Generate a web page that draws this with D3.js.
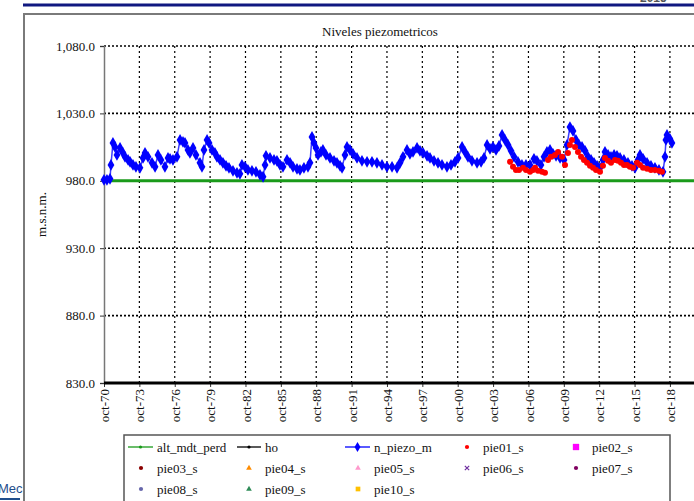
<!DOCTYPE html>
<html>
<head>
<meta charset="utf-8">
<script src="https://cdn.jsdelivr.net/npm/d3@7"></script>
<style>
  html, body { margin: 0; padding: 0; background: #fff; overflow: hidden; }
  svg { display: block; }
  svg text { font-family: "Liberation Serif", "DejaVu Serif", serif; }
</style>
</head>
<body>
<svg id="chart" width="694" height="501"></svg>
<script>
// ── data (decimal year, m.s.n.m.)
const nPiezo = [
  [1970.75, 980.7], [1971.00, 980.7], [1971.26, 981.5], [1971.34, 991.8], [1971.51, 1008.1],
  [1971.68, 1005.1], [1971.85, 999.2], [1972.11, 1004.4], [1972.36, 1000.7], [1972.53, 997.8],
  [1972.79, 995.5], [1972.96, 994.1], [1973.21, 991.8], [1973.46, 990.4], [1973.80, 989.6],
  [1974.06, 997.0], [1974.23, 1000.7], [1974.48, 997.8], [1974.82, 993.3], [1975.08, 990.4],
  [1975.33, 999.2], [1975.58, 995.5], [1975.92, 990.4], [1976.18, 997.0], [1976.35, 996.3],
  [1976.60, 995.5], [1976.94, 997.8], [1977.20, 1010.3], [1977.45, 1008.8], [1977.62, 1008.1],
  [1977.87, 1002.9], [1978.04, 1000.7], [1978.30, 1004.4], [1978.55, 999.2], [1978.89, 993.3],
  [1979.06, 990.4], [1979.23, 1002.9], [1979.49, 1010.3], [1979.66, 1008.1], [1979.91, 1002.9],
  [1980.16, 1000.7], [1980.33, 997.8], [1980.59, 995.5], [1980.84, 993.3], [1981.10, 991.1],
  [1981.35, 989.6], [1981.69, 987.4], [1982.03, 985.9], [1982.28, 985.2], [1982.45, 991.8],
  [1982.71, 990.4], [1982.96, 988.1], [1983.30, 987.4], [1983.64, 986.7], [1983.98, 984.4],
  [1984.24, 983.0], [1984.41, 991.8], [1984.49, 998.5], [1984.83, 997.0], [1985.17, 995.5],
  [1985.42, 994.8], [1985.68, 991.8], [1985.93, 990.4], [1986.27, 995.5], [1986.53, 993.3],
  [1986.78, 990.4], [1987.12, 988.9], [1987.37, 988.1], [1987.71, 989.6], [1988.05, 990.4],
  [1988.22, 993.3], [1988.39, 1012.5], [1988.56, 1008.1], [1988.73, 1004.4], [1988.90, 999.2],
  [1989.15, 1001.4], [1989.32, 1002.9], [1989.58, 999.2], [1989.92, 997.0], [1990.26, 994.8],
  [1990.51, 993.3], [1990.77, 991.1], [1990.94, 989.6], [1991.19, 999.2], [1991.36, 1005.1],
  [1991.61, 1002.9], [1991.87, 1000.0], [1992.21, 997.0], [1992.63, 994.8], [1993.06, 994.1],
  [1993.48, 994.1], [1993.90, 993.3], [1994.33, 991.8], [1994.75, 990.4], [1995.18, 990.4],
  [1995.60, 989.6], [1995.86, 993.3], [1996.11, 997.8], [1996.45, 1002.9], [1996.70, 1000.0],
  [1996.96, 1001.4], [1997.30, 1004.4], [1997.55, 1002.2], [1997.81, 1000.7], [1998.15, 998.5],
  [1998.40, 997.0], [1998.74, 994.8], [1999.08, 993.3], [1999.42, 991.8], [1999.84, 990.4],
  [2000.18, 991.8], [2000.52, 994.1], [2000.78, 997.0], [2001.12, 1005.1], [2001.37, 1001.4],
  [2001.62, 997.8], [2001.96, 994.8], [2002.39, 993.3], [2002.73, 994.1], [2002.98, 997.0],
  [2003.24, 1006.6], [2003.49, 1003.7], [2003.74, 1005.1], [2004.00, 1002.9], [2004.25, 1005.9],
  [2004.51, 1014.0], [2004.76, 1010.3], [2005.02, 1006.6], [2005.27, 1002.2], [2005.53, 997.8],
  [2005.86, 994.1], [2006.20, 991.8], [2006.54, 991.8], [2006.88, 991.8], [2007.22, 996.3],
  [2007.47, 994.8], [2007.81, 991.8], [2008.07, 997.8], [2008.32, 1001.4], [2008.58, 1002.9],
  [2008.83, 1000.0], [2009.09, 998.5], [2009.43, 997.0], [2009.77, 995.5], [2010.02, 1006.6],
  [2010.27, 1019.9], [2010.53, 1017.0], [2010.78, 1010.3], [2011.04, 1006.6], [2011.29, 1005.1],
  [2011.55, 1002.2], [2011.80, 997.8], [2012.06, 995.5], [2012.31, 993.3], [2012.57, 991.1],
  [2012.82, 989.6], [2013.07, 995.5], [2013.24, 1001.4], [2013.50, 999.2], [2013.75, 997.8],
  [2014.01, 999.2], [2014.26, 998.5], [2014.52, 997.0], [2014.85, 995.5], [2015.19, 993.3],
  [2015.53, 991.1], [2015.79, 989.6], [2016.04, 995.5], [2016.21, 999.2], [2016.47, 996.3],
  [2016.81, 993.3], [2017.14, 991.1], [2017.48, 989.6], [2017.82, 988.1], [2018.16, 986.7],
  [2018.33, 997.8], [2018.41, 1010.3], [2018.50, 1014.0], [2018.75, 1011.1], [2018.92, 1008.1]
];

const pie01 = [
  [2005.19, 994.1], [2005.44, 990.4], [2005.69, 988.1], [2005.95, 988.1], [2006.29, 989.6],
  [2006.54, 988.1], [2006.88, 986.7], [2007.14, 988.1], [2007.31, 989.6], [2007.56, 987.4],
  [2007.90, 986.7], [2008.15, 985.9], [2008.41, 995.5], [2008.66, 997.8], [2009.00, 999.2],
  [2009.26, 1001.4], [2009.60, 997.8], [2009.85, 991.8], [2010.10, 1000.7], [2010.27, 1006.6],
  [2010.44, 1010.3], [2010.70, 1005.1], [2010.95, 1001.4], [2011.21, 997.8], [2011.46, 995.5],
  [2011.72, 993.3], [2011.97, 991.1], [2012.23, 989.6], [2012.48, 988.1], [2012.82, 986.7],
  [2013.07, 991.1], [2013.24, 997.0], [2013.50, 994.8], [2013.75, 993.3], [2014.09, 995.5],
  [2014.34, 994.8], [2014.60, 993.3], [2014.85, 991.8], [2015.11, 991.8], [2015.36, 990.4],
  [2015.62, 989.6], [2015.96, 993.3], [2016.21, 991.8], [2016.47, 989.6], [2016.81, 988.9],
  [2017.14, 988.1], [2017.48, 988.1], [2017.82, 987.4], [2018.07, 986.7]
];

const altMdtPerd = [[1970.75, 980.0], [2021.3, 980.0]];   // ground level, flat
const ho = [[1970.75, 830.0], [2021.3, 830.0]];

const yTicks = [830, 880, 930, 980, 1030, 1080];
const xTickYears = [1970, 1973, 1976, 1979, 1982, 1985, 1988, 1991, 1994, 1997,
                    2000, 2003, 2006, 2009, 2012, 2015, 2018];

// legend rows: [label, kind, color]
const legendItems = [
  ['alt_mdt_perd', 'linedot', '#1a9a1a'], ['ho', 'linedot', '#000000'], ['n_piezo_m', 'linediamond', '#0000ff'],
  ['pie01_s', 'circle', '#ff0000'], ['pie02_s', 'square', '#ff00ff'],
  ['pie03_s', 'circle', '#8b0000'], ['pie04_s', 'triangle', '#ff8c00'], ['pie05_s', 'triangle', '#ff99cc'],
  ['pie06_s', 'cross', '#7030a0'], ['pie07_s', 'circle', '#800060'],
  ['pie08_s', 'circle', '#6666aa'], ['pie09_s', 'triangle', '#2e8b57'], ['pie10_s', 'square', '#ffc000'],
];

const FONT = '"Liberation Serif", "DejaVu Serif", serif';
const FS = 13;

// ─────────────────────────────────────────────────────────────
const svg = d3.select('#chart');

// page decorations: header rule, cropped page number, chart frame, logo stub
svg.append('text').attr('x', 640).attr('y', 2).style('font-family', 'Liberation Sans, sans-serif')
  .attr('font-size', 12).attr('font-weight', 'bold').attr('fill', '#555').text('2015');
svg.append('line').attr('x1', 23).attr('x2', 694).attr('y1', 5).attr('y2', 5)
  .attr('stroke', '#101880').attr('stroke-width', 3);
svg.append('path').attr('d', 'M24,501 V14 H694').attr('fill', 'none')
  .attr('stroke', '#7a7a7a').attr('stroke-width', 2);
svg.append('text').attr('x', -2).attr('y', 493).style('font-family', 'Liberation Sans, sans-serif')
  .attr('font-size', 13).attr('fill', '#1f4e8c').text('Mec');
svg.append('line').attr('x1', 0).attr('x2', 20).attr('y1', 499).attr('y2', 499)
  .attr('stroke', '#1f4e8c').attr('stroke-width', 2);

const plot = { left: 104, right: 700, top: 46, bottom: 383 };
const x = d3.scaleLinear().domain([1970.75, 2021.3]).range([plot.left, plot.right]);
const y = d3.scaleLinear().domain([830, 1080]).range([plot.bottom, plot.top]);

// title + axis label
svg.append('text').attr('x', 380).attr('y', 36).attr('text-anchor', 'middle')
  .style('font-family', FONT).attr('font-size', FS).attr('fill', '#111').text('Niveles piezometricos');
svg.append('text').attr('transform', `translate(46,${(plot.top + plot.bottom) / 2}) rotate(-90)`)
  .attr('text-anchor', 'middle').style('font-family', FONT).attr('font-size', FS)
  .attr('fill', '#111').text('m.s.n.m.');

// gridlines
const grid = svg.append('g');
grid.selectAll('line.h').data(yTicks.filter(v => v !== 830)).enter().append('line')
  .attr('x1', plot.left).attr('x2', plot.right)
  .attr('y1', d => y(d)).attr('y2', d => y(d))
  .attr('stroke', '#000').attr('stroke-width', 1.6).attr('stroke-dasharray', '2,2');
grid.selectAll('line.v').data(xTickYears.slice(1)).enter().append('line')
  .attr('x1', d => x(d + 0.75)).attr('x2', d => x(d + 0.75))
  .attr('y1', plot.top).attr('y2', plot.bottom)
  .attr('stroke', '#000').attr('stroke-width', 1.2).attr('stroke-dasharray', '2,3');

// y axis
const yAxis = d3.axisLeft(y).tickValues(yTicks).tickSize(4).tickFormat(d3.format(',.1f'));
const gy = svg.append('g').attr('transform', `translate(${plot.left},0)`).call(yAxis);
gy.select('.domain').attr('stroke', '#777').attr('stroke-width', 1.5);
gy.selectAll('.tick line').attr('stroke', '#333');
gy.selectAll('.tick text').style('font-family', FONT).attr('font-size', FS)
  .attr('fill', '#111').attr('dx', -2);

// x axis
const xAxis = d3.axisBottom(x).tickValues(xTickYears.map(d => d + 0.75)).tickSize(4)
  .tickFormat(d => 'oct-' + String(Math.floor(d)).slice(2));
const gx = svg.append('g').attr('transform', `translate(0,${plot.bottom})`).call(xAxis);
gx.select('.domain').remove();
gx.selectAll('.tick line').attr('stroke', '#333');
gx.selectAll('.tick text').style('font-family', FONT).attr('font-size', FS)
  .attr('fill', '#111').attr('text-anchor', 'end')
  .attr('transform', 'rotate(-90)').attr('x', -6).attr('y', 0).attr('dy', '0.35em');

// series
const line = d3.line().x(d => x(d[0])).y(d => y(d[1]));
svg.append('path').datum(altMdtPerd).attr('d', line).attr('fill', 'none')
  .attr('stroke', '#1a9a1a').attr('stroke-width', 3);
svg.append('path').datum(ho).attr('d', line).attr('fill', 'none')
  .attr('stroke', '#000').attr('stroke-width', 3);

svg.append('path').datum(nPiezo).attr('d', line).attr('fill', 'none')
  .attr('stroke', '#3a3aff').attr('stroke-width', 1.5);
const diamond = d3.symbol().type(d3.symbolDiamond).size(40);
svg.append('g').selectAll('path').data(nPiezo).enter().append('path')
  .attr('d', diamond).attr('transform', d => `translate(${x(d[0])},${y(d[1])})`)
  .attr('fill', '#0000ff');

svg.append('g').selectAll('circle').data(pie01).enter().append('circle')
  .attr('cx', d => x(d[0])).attr('cy', d => y(d[1])).attr('r', 3)
  .attr('fill', '#ff0000');

// legend
const lg = svg.append('g');
lg.append('rect').attr('x', 124).attr('y', 435).attr('width', 546).attr('height', 90)
  .attr('fill', '#fff').attr('stroke', '#555').attr('stroke-width', 1.5);
const colX = [128, 237, 345, 452, 560];
const colText = [157, 265, 374, 483, 592];
legendItems.forEach((it, i) => {
  const r = Math.floor(i / 5), c = i % 5;
  const cy = 447 + r * 21;
  const [label, kind, color] = it;
  const g = lg.append('g');
  if (kind.startsWith('line')) {
    g.append('line').attr('x1', colX[c]).attr('x2', colText[c] - 4).attr('y1', cy).attr('y2', cy)
      .attr('stroke', color).attr('stroke-width', 1.3);
    const mx = (colX[c] + colText[c] - 4) / 2;
    if (kind === 'linediamond') {
      g.append('path').attr('d', d3.symbol().type(d3.symbolDiamond).size(30))
        .attr('transform', `translate(${mx},${cy})`).attr('fill', color);
    } else {
      g.append('circle').attr('cx', mx).attr('cy', cy).attr('r', 1.6).attr('fill', color);
    }
  } else {
    const mx = colText[c] - 16;
    const type = { circle: d3.symbolCircle, square: d3.symbolSquare, triangle: d3.symbolTriangle, cross: d3.symbolTimes }[kind];
    const size = kind === 'square' && i === 4 ? 40 : kind === 'square' ? 22 : 14;
    const sym = g.append('path').attr('d', d3.symbol().type(type).size(size))
      .attr('transform', `translate(${mx},${cy})`);
    if (kind === 'cross') sym.attr('fill', 'none').attr('stroke', color).attr('stroke-width', 1.2);
    else sym.attr('fill', color);
  }
  g.append('text').attr('x', colText[c]).attr('y', cy).attr('dy', '0.35em')
    .style('font-family', FONT).attr('font-size', FS).attr('fill', '#111').text(label);
});
</script>
</body>
</html>
